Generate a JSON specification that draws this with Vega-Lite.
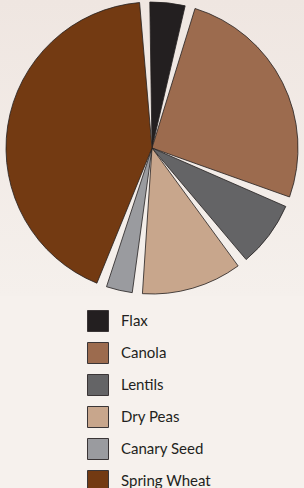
{
  "$schema": "https://vega.github.io/schema/vega-lite/v6.json",
  "width": 304,
  "height": 296,
  "padding": 0,
  "background": "#f6f1ed",
  "view": {"stroke": null, "fill": {"gradient": "linear", "x1": 0, "y1": 0, "x2": 0, "y2": 1, "stops": [{"offset": 0, "color": "#efe6e1"}, {"offset": 1, "color": "#f5f0ec"}]}},
  "data": {
    "values": [
      {"crop": "Flax", "share": 5.0, "rank": 1},
      {"crop": "Canola", "share": 26.8, "rank": 2},
      {"crop": "Lentils", "share": 8.4, "rank": 3},
      {"crop": "Dry Peas", "share": 12.2, "rank": 4},
      {"crop": "Canary Seed", "share": 4.0, "rank": 5},
      {"crop": "Spring Wheat", "share": 43.6, "rank": 6}
    ]
  },
  "mark": {"type": "arc", "outerRadius": 146, "padAngle": 0.07, "stroke": "#231f20", "strokeWidth": 0.8},
  "encoding": {
    "theta": {"field": "share", "type": "quantitative", "stack": true, "scale": {"range": [-0.05, 6.233]}},
    "order": {"field": "rank", "type": "quantitative", "sort": "ascending"},
    "color": {
      "field": "crop",
      "type": "nominal",
      "sort": ["Flax", "Canola", "Lentils", "Dry Peas", "Canary Seed", "Spring Wheat"],
      "scale": {
        "domain": ["Flax", "Canola", "Lentils", "Dry Peas", "Canary Seed", "Spring Wheat"],
        "range": ["#231f20", "#9c6b4e", "#646466", "#c8a68c", "#9a9b9f", "#733a12"]
      },
      "legend": {
        "title": null,
        "orient": "none",
        "legendX": 87,
        "legendY": 310,
        "padding": 0,
        "direction": "vertical",
        "symbolType": "square",
        "symbolSize": 441,
        "symbolStrokeColor": "#3a3536",
        "symbolStrokeWidth": 1,
        "symbolOpacity": 1,
        "labelFont": "Lato",
        "labelFontSize": 15,
        "labelColor": "#231f20",
        "labelOffset": 12,
        "rowPadding": 6,
        "labelLimit": 200
      }
    }
  }
}
